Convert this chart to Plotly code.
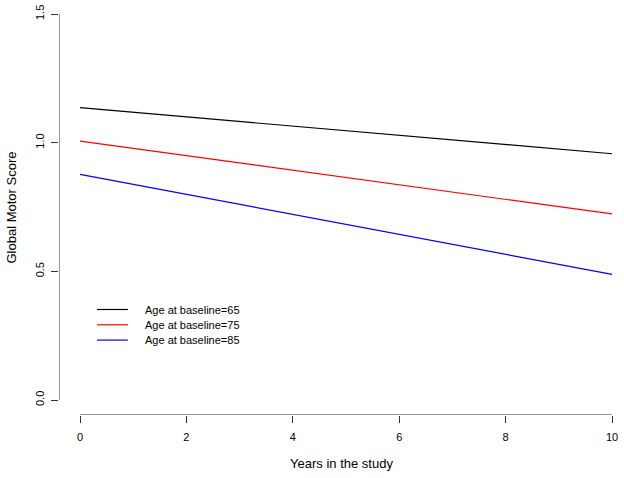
import plotly.graph_objects as go

years = [0, 10]
series_names = ["Age at baseline=65", "Age at baseline=75", "Age at baseline=85"]
score_65 = [1.136, 0.957]
score_75 = [1.006, 0.723]
score_85 = [0.877, 0.488]
series_values = [score_65, score_75, score_85]
series_colors = ["#000000", "#ff0000", "#0000ff"]
x_ticks = [0, 2, 4, 6, 8, 10]
y_ticks = [0.0, 0.5, 1.0, 1.5]
y_tick_labels = ["0.0", "0.5", "1.0", "1.5"]

W, H = 624, 478
ml, mr, mt, mb = 59, 0, 0, 63
# pixel mapping: x=0 at 80px, x=10 at 612px; y=0 at 400px, y=1.5 at 14px
xpx = (612 - 80) / 10.0
ypx = (400 - 14) / 1.5
x_lo = -(80 - ml) / xpx
x_hi = (W - mr - 80) / xpx
y_lo = -(H - mb - 400) / ypx
y_hi = (400 - mt) / ypx

font = "Liberation Sans, Arial, sans-serif"
axis_col = "#333333"

fig = go.Figure()
for name, vals, col in zip(series_names, series_values, series_colors):
    fig.add_trace(go.Scatter(x=years, y=vals, mode="lines", name=name,
                             line=dict(color=col, width=1.2), showlegend=False))

shapes = []
annotations = []
# axis lines (R style, spanning tick range only)
shapes.append(dict(type="line", xref="x", yref="y", x0=x_lo, x1=x_lo, y0=y_ticks[0], y1=y_ticks[-1],
                   line=dict(color=axis_col, width=1)))
shapes.append(dict(type="line", xref="x", yref="y", x0=x_ticks[0], x1=x_ticks[-1], y0=y_lo, y1=y_lo,
                   line=dict(color=axis_col, width=1)))

# manual legend (R style)
leg_x0, leg_x1, leg_tx = 0.32, 0.90, 1.19
leg_y0 = (400 - 309.5) / ypx
leg_dy = 15.3 / ypx
for i, (name, col) in enumerate(zip(series_names, series_colors)):
    yy = leg_y0 - i * leg_dy
    shapes.append(dict(type="line", xref="x", yref="y", x0=leg_x0, x1=leg_x1, y0=yy, y1=yy,
                       line=dict(color=col, width=1.2)))
    annotations.append(dict(x=leg_tx, y=yy, xref="x", yref="y", text=name, showarrow=False,
                            xanchor="left", yanchor="middle", font=dict(family=font, size=11, color="#000")))

fig.update_layout(
    width=W, height=H,
    margin=dict(l=ml, r=mr, t=mt, b=mb, pad=0),
    paper_bgcolor="white", plot_bgcolor="white",
    showlegend=False,
    shapes=shapes, annotations=annotations,
    font=dict(family=font, size=11, color="#000"),
    xaxis=dict(range=[x_lo, x_hi], showgrid=False, zeroline=False, showline=False, automargin=False,
               tickmode="array", tickvals=x_ticks, ticks="outside", ticklen=7, ticklabelstandoff=5,
               tickcolor=axis_col, tickwidth=1, tickfont=dict(size=11, family=font),
               title=dict(text="Years in the study", font=dict(size=13, family=font), standoff=16)),
    yaxis=dict(range=[y_lo, y_hi], showgrid=False, zeroline=False, showline=False, automargin=False,
               tickmode="array", tickvals=y_ticks, ticktext=y_tick_labels, ticks="outside", ticklen=7,
               ticklabelstandoff=3,
               tickcolor=axis_col, tickwidth=1, tickangle=-90, tickfont=dict(size=11, family=font),
               title=dict(text="Global Motor Score", font=dict(size=13, family=font), standoff=14)),
)

fig.write_html("out.html", config={"displayModeBar": False},
               post_script="document.body.style.margin='0';document.body.style.overflow='hidden';")
